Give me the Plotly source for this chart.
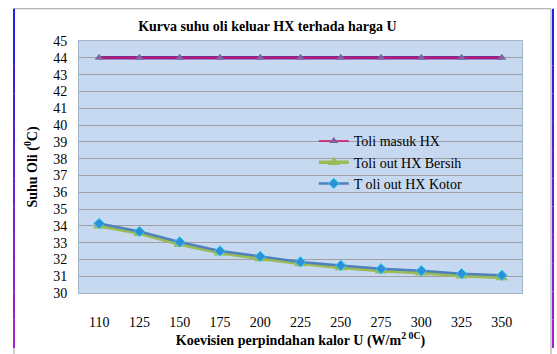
import plotly.graph_objects as go

# Heat transfer coefficient U (W/m2 0C) and oil temperatures (0C)
u_values = ["110", "125", "150", "175", "200", "225", "250", "275", "300", "325", "350"]
t_oil_in = [44, 44, 44, 44, 44, 44, 44, 44, 44, 44, 44]
t_oil_out_clean = [34.0, 33.55, 32.9, 32.4, 32.05, 31.75, 31.52, 31.33, 31.2, 31.03, 30.93]
t_oil_out_dirty = [34.14, 33.66, 33.04, 32.5, 32.18, 31.85, 31.64, 31.44, 31.33, 31.15, 31.05]
y_ticks = list(range(30, 46))

serif = "Times New Roman, Liberation Serif, DejaVu Serif, serif"

fig = go.Figure()

# purple outline under the inlet line
fig.add_trace(go.Scatter(
    x=u_values, y=t_oil_in, mode="lines",
    line=dict(color="#7030A0", width=3.5), showlegend=False, hoverinfo="skip"))
fig.add_trace(go.Scatter(
    x=u_values, y=t_oil_in, mode="lines+markers", name="Toli masuk HX",
    line=dict(color="#D01060", width=1.5),
    marker=dict(symbol="triangle-up", size=8, color="#8064A2")))
fig.add_trace(go.Scatter(
    x=u_values, y=t_oil_out_clean, mode="lines+markers", name="Toli out HX Bersih",
    line=dict(color="#9BBB59", width=3.5),
    marker=dict(symbol="triangle-up", size=11, color="#9BBB59")))
fig.add_trace(go.Scatter(
    x=u_values, y=t_oil_out_dirty, mode="lines+markers", name="T oli out HX Kotor",
    line=dict(color="#4F81BD", width=2.5),
    marker=dict(symbol="diamond", size=8, color="#2E8FD8",
                line=dict(color="#22D0F0", width=1))))

# outer chart frame
shapes = [dict(type="rect", xref="paper", yref="paper",
               x0=-0.1467, x1=1.0655, y0=1.128, y1=-0.25,
               line=dict(color="#A0A0A0", width=1), fillcolor="rgba(0,0,0,0)", layer="below")]
n = 12
top, bottom = 1.128, -0.218
for i in range(n):
    f = i / (n - 1)
    r = int(0x20 + f * (0xA0 - 0x20))
    col = f"rgb({r},32,{int(230 - f * 20)})"
    ya = top + (bottom - top) * i / n
    yb = top + (bottom - top) * (i + 1) / n
    for xx in (-0.1467, 1.0700):
        shapes.append(dict(type="line", xref="paper", yref="paper",
                           x0=xx, x1=xx, y0=ya, y1=yb,
                           line=dict(color=col, width=2)))

fig.update_layout(
    width=557, height=354,
    margin=dict(l=79, r=35, t=41, b=56),
    paper_bgcolor="white",
    plot_bgcolor="#C6D9F1",
    font=dict(family=serif, size=13, color="black"),
    title=dict(text="<b>Kurva suhu oli keluar HX terhada harga U</b>",
               x=0.48, xanchor="center", y=0.925, yanchor="middle",
               font=dict(family=serif, size=14, color="black")),
    xaxis=dict(type="category", range=[-0.5, 10.5],
               showgrid=False, showline=True, linecolor="#A6B4C8", mirror=True,
               ticks="outside", ticklen=16, tickcolor="rgba(0,0,0,0)",
               tickfont=dict(family=serif, size=14),
               title=dict(text="<b>Koevisien perpindahan kalor U (W/m<sup>2 0C</sup>)</b>",
                          font=dict(family=serif, size=14), standoff=2)),
    yaxis=dict(range=[30, 45], tickvals=y_ticks,
               showgrid=True, gridcolor="#A0A0A0", gridwidth=1,
               showline=True, linecolor="#A6B4C8", mirror=True,
               ticks="outside", ticklen=8, tickcolor="rgba(0,0,0,0)",
               tickfont=dict(family=serif, size=14),
               title=dict(text="<b>Suhu Oli (<sup>0</sup>C)</b>",
                          font=dict(family=serif, size=14), standoff=12)),
    legend=dict(x=0.53, y=0.665, xanchor="left", yanchor="top",
                bgcolor="rgba(0,0,0,0)", font=dict(family=serif, size=14),
                tracegroupgap=0, itemwidth=30),
    shapes=shapes,
)

fig.write_html("out.html")
